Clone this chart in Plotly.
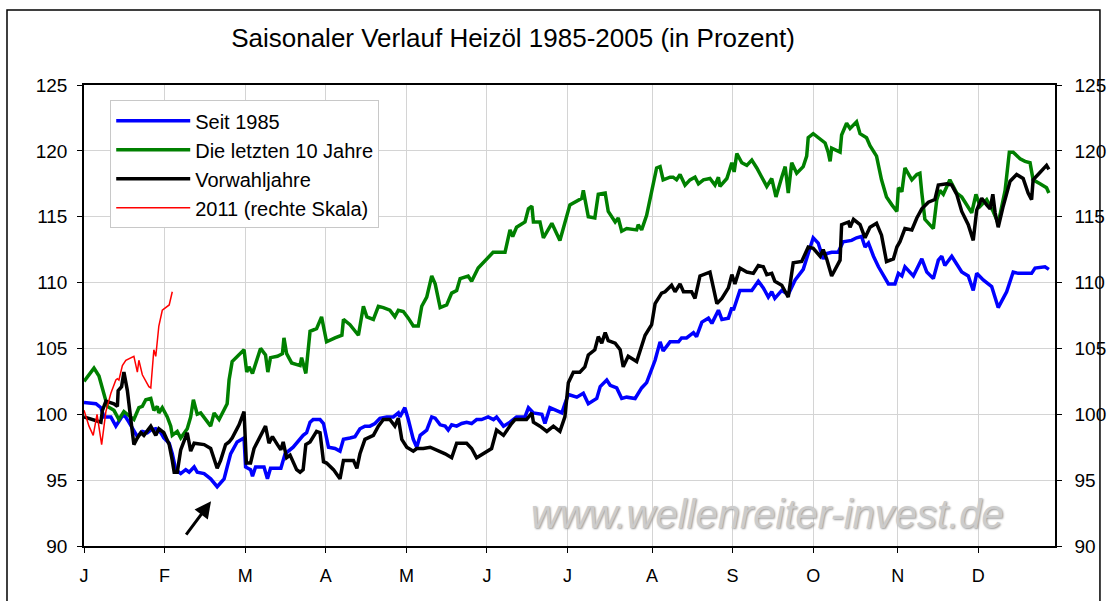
import plotly.graph_objects as go

# ---- axis categories (trading-day index of month starts) ----
months = ["J", "F", "M", "A", "M", "J", "J", "A", "S", "O", "N", "D"]
month_start_day = [0, 21, 42, 63, 84, 105, 126, 148, 169, 190, 212, 233]

# ---- Seit 1985 (blue) ----
seit_x = [0, 3.1, 4.4, 5.2, 7.0, 8.3, 9.6, 10.4, 11.7, 13.0,
          13.9, 15.2, 16.5, 17.4, 18.7, 20.0, 20.8, 22.2, 23.0, 23.9,
          25.2, 26.5, 27.4, 28.7, 29.5, 31.3, 33.0, 34.7, 36.5, 37.3,
          38.2, 39.9, 41.7, 42.1, 43.4, 43.9, 44.7, 46.9, 47.8, 48.6,
          51.3, 52.4, 54.5, 57.1, 58.0, 58.9, 59.7, 61.5, 62.4, 63.7,
          65.4, 66.7, 67.6, 69.3, 70.6, 71.9, 73.2, 74.5, 75.8, 77.1,
          78.9, 80.6, 81.9, 82.3, 83.6, 84.5, 85.8, 86.7, 87.6, 89.3,
          90.6, 91.5, 92.8, 94.1, 94.9, 95.8, 97.1, 98.4, 99.7, 101.0,
          102.3, 103.6, 105.3, 106.7, 107.5, 109.3, 111.0, 112.7, 114.9, 115.8,
          117.1, 119.3, 120.1, 121.4, 123.2, 124.5, 125.3, 126.2, 128.4, 130.1,
          131.4, 133.6, 134.5, 136.2, 137.1, 138.8, 140.1, 141.4, 143.6, 145.3,
          146.6, 147.9, 148.8, 150.1, 150.9, 152.7, 154.9, 155.7, 157.0, 158.8,
          159.6, 161.0, 162.7, 163.6, 165.3, 166.2, 167.9, 168.8, 169.2, 170.9,
          172.7, 174.0, 175.7, 177.0, 178.3, 179.2, 180.0, 181.8, 183.5, 185.3,
          187.4, 188.7, 190.0, 191.3, 192.6, 193.5, 194.8, 196.5, 197.8, 200.0,
          201.3, 202.6, 203.5, 204.4, 205.7, 207.0, 208.3, 209.6, 211.3, 212.2,
          213.1, 213.9, 216.1, 218.3, 219.6, 221.3, 222.6, 223.5, 224.3, 226.1,
          228.7, 230.4, 231.7, 232.6, 234.3, 236.5, 238.2, 240.4, 242.1, 243.4,
          246.9, 247.8, 250.4, 251.4]
seit_y = [100.9, 100.8, 100.5, 99.8, 99.8, 99.1, 99.7, 100.0, 99.4, 98.7,
          98.3, 98.7, 98.6, 98.8, 98.9, 98.6, 98.2, 97.8, 97.0, 95.8,
          95.5, 95.8, 95.6, 96.0, 95.6, 95.5, 95.1, 94.5, 95.1, 96.0,
          97.0, 97.9, 98.2, 96.0, 95.8, 95.3, 96.0, 96.0, 95.1, 95.9,
          95.9, 97.0, 97.5, 98.4, 98.6, 99.4, 99.6, 99.6, 99.3, 97.5,
          97.4, 97.2, 98.1, 98.2, 98.3, 98.9, 99.1, 99.1, 99.3, 99.7,
          99.8, 99.8, 100.1, 99.8, 100.5, 99.6, 98.1, 97.5, 98.4, 98.8,
          99.8, 99.7, 99.2, 99.1, 98.8, 99.2, 99.1, 99.3, 99.4, 99.3,
          99.6, 99.6, 99.8, 99.6, 99.8, 99.1, 99.4, 99.8, 99.8, 100.5,
          100.1, 100.0, 99.3, 100.5, 100.3, 100.1, 100.8, 101.5, 101.3, 101.6,
          100.8, 101.2, 102.1, 102.6, 102.2, 102.0, 101.2, 101.3, 101.2, 102.0,
          102.4, 103.4, 104.1, 105.5, 104.8, 105.5, 105.5, 105.8, 105.8, 106.2,
          105.9, 107.0, 107.3, 106.9, 107.9, 107.2, 107.3, 108.1, 107.9, 109.4,
          109.4, 109.4, 110.1, 109.6, 108.9, 109.3, 108.8, 109.4, 109.1, 110.2,
          111.0, 112.1, 113.4, 113.0, 111.8, 112.2, 112.3, 112.3, 113.1, 113.2,
          113.4, 113.5, 112.7, 113.0, 112.0, 111.2, 110.5, 109.9, 109.9, 110.7,
          110.5, 111.2, 110.5, 111.8, 110.8, 110.3, 111.7, 112.0, 111.3, 112.0,
          110.8, 110.5, 109.4, 110.7, 110.2, 109.7, 108.1, 109.3, 110.8, 110.7,
          110.7, 111.1, 111.2, 111.0]

# ---- Die letzten 10 Jahre (green) ----
zehn_x = [0, 2.6, 3.9, 5.2, 6.1, 7.8, 9.1, 10.4, 12.2, 13.0,
          14.3, 15.2, 16.1, 17.4, 18.2, 19.1, 19.5, 20.4, 21.7, 22.6,
          23.0, 24.3, 25.2, 26.9, 27.8, 28.5, 29.5, 30.4, 33.0, 33.9,
          35.2, 36.5, 37.3, 37.8, 38.6, 41.7, 42.4, 43.0, 43.9, 46.0,
          47.3, 47.9, 48.6, 50.4, 51.7, 52.1, 52.8, 54.1, 56.3, 56.7,
          57.8, 58.9, 60.6, 61.9, 63.2, 65.4, 67.2, 67.6, 69.3, 71.5,
          72.8, 73.7, 75.4, 76.7, 78.0, 79.7, 81.0, 81.9, 83.2, 84.5,
          85.8, 87.1, 88.0, 89.3, 90.6, 91.5, 92.8, 94.5, 95.8, 97.1,
          98.0, 100.1, 101.0, 102.7, 104.9, 106.6, 109.7, 111.0, 111.7, 112.7,
          114.9, 115.8, 116.7, 117.1, 118.8, 119.7, 121.9, 124.0, 126.6, 127.9,
          129.7, 130.1, 131.4, 133.1, 134.0, 135.8, 136.6, 138.4, 139.2, 140.1,
          141.4, 144.0, 144.4, 145.3, 146.6, 147.9, 149.2, 150.1, 150.9, 152.7,
          153.5, 154.4, 155.3, 156.6, 157.9, 159.2, 160.1, 161.4, 163.1, 164.4,
          165.3, 165.7, 167.5, 168.8, 169.4, 170.1, 171.4, 172.7, 174.0, 175.3,
          177.0, 177.9, 179.2, 180.3, 181.8, 182.7, 183.5, 184.4, 185.7, 187.4,
          188.3, 188.7, 190.0, 191.3, 193.1, 193.9, 194.4, 194.8, 197.0, 197.4,
          198.7, 199.6, 201.3, 202.2, 203.1, 203.9, 204.8, 206.5, 207.8, 209.1,
          210.5, 211.8, 212.2, 213.1, 213.9, 215.7, 217.0, 217.8, 218.3, 219.1,
          221.3, 222.2, 223.0, 223.9, 225.6, 227.4, 228.7, 231.3, 232.4, 233.5,
          235.2, 236.9, 238.2, 240.0, 241.1, 242.1, 243.9, 245.2, 246.5, 247.3,
          249.1, 250.8, 251.4]
zehn_y = [102.5, 103.5, 102.9, 101.6, 100.6, 100.3, 99.6, 100.2, 99.8, 99.6,
          100.5, 100.6, 101.1, 101.2, 100.3, 100.6, 100.1, 100.5, 99.8, 99.1,
          98.4, 98.7, 98.2, 98.9, 99.8, 101.1, 100.0, 100.1, 99.1, 100.1,
          99.6, 100.3, 100.8, 102.6, 104.0, 104.9, 103.2, 103.6, 103.1, 105.0,
          104.5, 103.2, 104.3, 104.4, 104.6, 105.8, 104.6, 103.9, 103.7, 104.3,
          103.1, 106.3, 106.5, 107.4, 105.5, 105.8, 106.0, 107.2, 106.8, 106.0,
          108.2, 107.4, 107.2, 108.2, 108.1, 107.9, 107.4, 107.9, 107.8, 107.3,
          106.7, 106.7, 108.2, 108.9, 110.5, 109.9, 108.1, 108.3, 109.2, 109.4,
          110.3, 110.5, 110.1, 111.1, 111.8, 112.3, 112.3, 114.0, 113.5, 114.2,
          114.6, 115.6, 115.8, 114.6, 114.6, 113.4, 114.5, 113.2, 115.9, 116.1,
          116.4, 117.0, 115.0, 114.9, 116.7, 116.8, 115.4, 114.6, 114.9, 113.9,
          114.1, 114.0, 114.4, 114.0, 115.1, 116.9, 118.7, 118.8, 117.8, 118.0,
          118.0, 117.8, 118.2, 117.4, 117.8, 118.0, 117.5, 117.8, 117.9, 117.4,
          118.0, 117.3, 117.9, 119.1, 118.4, 119.8, 119.1, 118.9, 119.3, 118.7,
          117.8, 117.3, 117.9, 116.5, 118.0, 118.8, 116.8, 119.1, 118.3, 118.8,
          119.6, 121.0, 121.3, 121.0, 120.6, 119.9, 119.2, 120.2, 119.9, 121.2,
          122.1, 121.7, 122.2, 121.3, 121.1, 121.0, 120.4, 119.6, 117.8, 116.5,
          115.9, 115.4, 117.2, 116.9, 118.7, 117.8, 118.2, 118.3, 116.8, 114.8,
          114.1, 116.3, 117.0, 116.7, 117.8, 116.8, 116.5, 115.3, 116.7, 115.8,
          116.3, 115.4, 114.5, 117.0, 119.9, 119.9, 119.4, 119.2, 119.1, 117.8,
          117.5, 117.2, 116.8]

# ---- Vorwahljahre (black) ----
vorwahl_x = [0, 2.6, 4.4, 4.8, 5.7, 7.8, 8.7, 8.9, 9.8, 10.4,
             11.3, 12.2, 13.0, 13.9, 14.8, 15.6, 17.4, 18.7, 19.5, 20.8,
             22.2, 23.0, 23.5, 24.3, 25.2, 26.9, 27.8, 28.7, 31.3, 33.0,
             33.9, 34.7, 35.6, 36.9, 37.8, 38.6, 40.4, 41.7, 42.3, 43.4,
             44.3, 46.0, 47.3, 48.2, 49.1, 50.4, 51.3, 51.9, 52.8, 53.7,
             55.4, 56.3, 57.1, 57.8, 58.9, 60.6, 61.5, 62.4, 63.2, 65.0,
             66.7, 67.6, 70.2, 71.1, 71.9, 73.2, 75.4, 76.7, 78.0, 79.7,
             81.0, 81.9, 82.8, 84.1, 85.8, 86.7, 88.4, 90.2, 91.9, 94.1,
             95.8, 97.1, 99.7, 101.0, 102.3, 104.0, 106.2, 107.5, 109.3, 111.4,
             112.3, 115.3, 116.7, 117.1, 118.8, 120.6, 122.3, 124.0, 125.3, 126.2,
             127.5, 129.2, 130.5, 131.4, 133.1, 134.0, 134.9, 135.8, 136.6, 138.4,
             139.7, 140.5, 141.8, 144.0, 144.9, 146.2, 147.9, 148.8, 150.5, 151.4,
             153.1, 154.0, 155.3, 156.2, 158.3, 159.2, 160.5, 163.1, 164.9, 166.2,
             167.9, 168.8, 169.6, 170.9, 172.7, 174.4, 175.7, 177.0, 177.9, 179.2,
             180.0, 181.8, 183.5, 184.8, 187.0, 188.7, 190.0, 191.8, 192.6, 193.5,
             194.8, 197.0, 197.4, 199.2, 199.6, 200.5, 202.2, 203.5, 204.8, 206.5,
             207.8, 209.1, 210.9, 211.8, 212.6, 213.9, 215.7, 217.0, 218.3, 220.0,
             221.7, 222.6, 224.8, 226.1, 227.4, 228.7, 230.4, 231.7, 232.6, 233.9,
             235.2, 236.1, 236.8, 237.4, 238.2, 239.5, 241.3, 243.0, 244.7, 246.0,
             246.9, 247.3, 248.6, 250.8, 251.4]
vorwahl_y = [99.8, 99.6, 99.4, 100.3, 101.0, 100.8, 100.6, 101.8, 102.1, 103.2,
             101.8, 99.6, 97.7, 98.2, 98.6, 98.4, 99.1, 98.4, 98.9, 98.6,
             97.7, 96.5, 95.6, 95.6, 97.3, 98.6, 97.2, 97.8, 97.7, 97.4,
             96.5, 95.9, 96.5, 97.7, 97.9, 98.2, 99.2, 100.2, 96.3, 96.3,
             97.4, 98.4, 99.1, 97.8, 98.3, 97.7, 97.3, 97.9, 96.7, 96.9,
             95.8, 95.6, 95.8, 97.7, 97.9, 98.7, 98.6, 96.4, 96.3, 95.8,
             95.1, 96.5, 96.5, 95.9, 97.0, 98.1, 98.4, 99.1, 99.6, 99.6,
             99.1, 99.7, 98.1, 97.5, 97.2, 97.4, 97.4, 97.5, 97.3, 97.0,
             96.7, 97.8, 97.8, 97.4, 96.7, 97.0, 97.4, 98.8, 98.4, 99.3,
             99.6, 99.6, 100.1, 99.4, 99.1, 98.7, 99.1, 98.7, 99.8, 102.4,
             103.2, 103.2, 103.6, 104.5, 104.9, 105.9, 105.4, 106.2, 105.6, 105.4,
             104.9, 103.6, 104.4, 104.0, 104.9, 106.0, 106.8, 108.4, 109.2, 109.3,
             109.8, 109.3, 109.9, 109.3, 109.3, 108.8, 110.5, 110.8, 108.4, 108.8,
             109.6, 110.6, 109.9, 111.1, 110.8, 110.7, 111.3, 111.2, 110.6, 110.7,
             110.1, 109.8, 108.9, 111.5, 111.6, 112.7, 112.6, 112.0, 112.5, 111.8,
             110.5, 111.7, 114.4, 114.6, 114.2, 114.8, 114.4, 113.4, 114.2, 114.5,
             113.6, 111.6, 111.8, 112.7, 113.1, 114.1, 114.0, 114.9, 115.6, 116.1,
             116.3, 117.4, 117.5, 117.4, 116.7, 115.4, 114.4, 113.2, 115.5, 116.4,
             115.9, 115.6, 116.7, 115.3, 114.2, 115.8, 117.7, 118.2, 117.9, 116.8,
             116.3, 117.8, 118.2, 118.9, 118.6]

# ---- 2011 (red, right-hand scale) ----
jahr2011_x = [0, 1.3, 2.4, 3.4, 4.6, 5.7, 7.0, 8.3, 8.7, 9.1,
              10.0, 10.9, 13.0, 13.9, 14.3, 15.2, 16.9, 17.4, 18.2, 18.7,
              19.5, 20.4, 22.2, 23.0]
jahr2011_y = [100.3, 99.1, 98.4, 100.0, 97.7, 100.2, 101.6, 102.6, 102.7, 102.6,
              103.7, 104.1, 104.4, 103.2, 104.1, 103.0, 102.1, 102.0, 104.9, 104.4,
              106.7, 107.9, 108.3, 109.3]

y_ticks = [90, 95, 100, 105, 110, 115, 120, 125]

assert len(seit_x) == len(seit_y)
assert len(zehn_x) == len(zehn_y)
assert len(vorwahl_x) == len(vorwahl_y)
assert len(jahr2011_x) == len(jahr2011_y)

FONT = "Arial, Liberation Sans, sans-serif"

fig = go.Figure()
fig.add_trace(go.Scatter(x=seit_x, y=seit_y, name="Seit 1985", mode="lines",
                         line=dict(color="#0000FF", width=3.5)))
fig.add_trace(go.Scatter(x=zehn_x, y=zehn_y, name="Die letzten 10 Jahre", mode="lines",
                         line=dict(color="#008000", width=3.5)))
fig.add_trace(go.Scatter(x=vorwahl_x, y=vorwahl_y, name="Vorwahljahre", mode="lines",
                         line=dict(color="#000000", width=3.5)))
fig.add_trace(go.Scatter(x=jahr2011_x, y=jahr2011_y, name="2011 (rechte Skala)", mode="lines",
                         line=dict(color="#FF0000", width=1.5), yaxis="y2"))

# automargin off so the template never widens the margins
axis_common = dict(ticks="outside", ticklen=5, tickcolor="black", tickwidth=1,
                   showline=True, linecolor="black", linewidth=1.5, zeroline=False,
                   automargin=False)

fig.update_layout(
    autosize=False,
    width=1109, height=601,
    margin=dict(l=84, r=54, t=85, b=55, autoexpand=False),
    paper_bgcolor="white", plot_bgcolor="white",
    font=dict(family=FONT, color="black"),
    title=dict(text="Saisonaler Verlauf Heizöl 1985-2005 (in Prozent)",
               font=dict(family=FONT, size=26, color="black"),
               xref="paper", x=0.4418, xanchor="center",
               yref="container", y=0.937, yanchor="middle"),
    xaxis=dict(range=[0, 253], tickvals=month_start_day, ticktext=months,
               showgrid=True, gridcolor="#d4d4d4", gridwidth=1, mirror=True,
               tickfont=dict(family=FONT, size=18), ticklabelstandoff=8,
               **axis_common),
    yaxis=dict(range=[90, 125], tickvals=y_ticks, showgrid=True, gridcolor="#d4d4d4",
               gridwidth=1, tickfont=dict(family=FONT, size=19), ticklabelstandoff=6,
               **axis_common),
    yaxis2=dict(range=[90, 125], tickvals=y_ticks, overlaying="y", side="right",
                showgrid=False, tickfont=dict(family=FONT, size=19), ticklabelstandoff=9,
                **axis_common),
    legend=dict(x=0.027, y=0.967, xanchor="left", yanchor="top",
                bgcolor="white", bordercolor="#c8c8c8", borderwidth=1,
                font=dict(family=FONT, size=20, color="black"),
                itemwidth=74, tracegroupgap=0),
    showlegend=True,
)

# watermark
fig.add_annotation(text="www.wellenreiter-invest.de", xref="paper", yref="paper",
                   x=0.704, y=0.069, xanchor="center", yanchor="middle", showarrow=False,
                   font=dict(family=FONT, size=40, color="#cccccc", style="italic",
                             shadow="1px 1px 2px #9a9a9a"))

# arrow pointing at the February low
fig.add_annotation(x=33.1, y=93.4, xref="x", yref="y", text="", showarrow=True,
                   ax=-26, ay=35, arrowhead=2, arrowsize=1.1, arrowwidth=3,
                   arrowcolor="black")

# outer frame of the chart
fig.add_shape(type="rect", xref="paper", yref="paper",
              x0=-0.0793, x1=1.0463, y0=-0.16, y1=1.1627,
              line=dict(color="black", width=1.5), layer="above")

# fixed-size figure sitting flush in the 1109x601 window (no default body margin, no resizing)
fig.write_html("out.html",
               config={"displayModeBar": False, "responsive": False},
               post_script="document.body.style.margin='0';"
                           "document.documentElement.style.overflow='hidden';")
